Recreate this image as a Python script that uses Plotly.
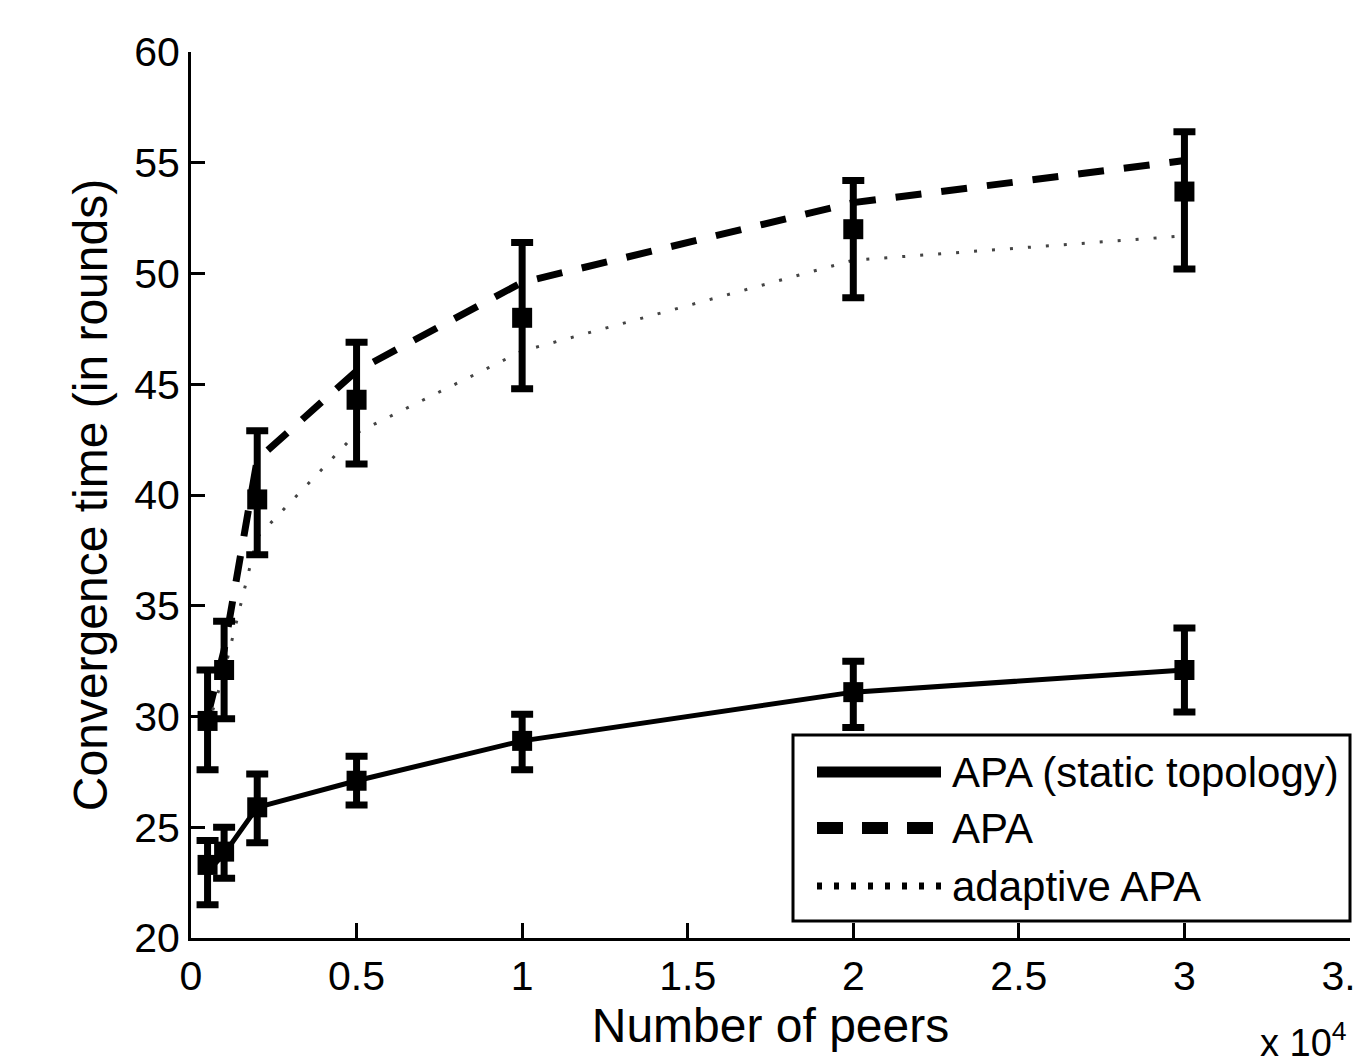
import plotly.graph_objects as go

# ---------------- data ----------------
peers = [500, 1000, 2000, 5000, 10000, 20000, 30000]
x_scale = 1e4

static_mean = [23.0, 23.8, 25.9, 27.1, 28.9, 31.1, 32.1]
static_mid = [23.3, 23.9, 25.9, 27.1, 28.9, 31.1, 32.1]
static_lo = [21.5, 22.7, 24.3, 26.0, 27.6, 29.5, 30.2]
static_hi = [24.4, 25.0, 27.4, 28.2, 30.1, 32.5, 34.0]

apa_mean = [30.0, 33.0, 41.6, 45.6, 49.6, 53.2, 55.1]
adaptive_mean = [29.5, 32.0, 38.1, 42.8, 46.5, 50.6, 51.7]
dyn_mid = [29.8, 32.1, 39.8, 44.3, 48.0, 52.0, 53.7]
dyn_lo = [27.6, 29.9, 37.3, 41.4, 44.8, 48.9, 50.2]
dyn_hi = [32.1, 34.3, 42.9, 46.9, 51.4, 54.2, 56.4]

xtick_vals = [0, 0.5, 1, 1.5, 2, 2.5, 3, 3.5]
xtick_text = ["0", "0.5", "1", "1.5", "2", "2.5", "3", "3.5"]
ytick_vals = [20, 25, 30, 35, 40, 45, 50, 55, 60]

legend_labels = ["APA (static topology)", "APA", "adaptive APA"]

# ---------------- figure ----------------
xs = [p / x_scale for p in peers]
FONT = "Liberation Sans, Arial, sans-serif"

fig = go.Figure()

fig.add_trace(go.Scatter(x=xs, y=static_mean, mode="lines",
                         line=dict(color="black", width=5), showlegend=False))
fig.add_trace(go.Scatter(x=xs, y=apa_mean, mode="lines",
                         line=dict(color="black", width=7, dash="26px,20px"), showlegend=False))
fig.add_trace(go.Scatter(x=xs, y=adaptive_mean, mode="lines",
                         line=dict(color="#444444", width=3, dash="3px,15px"), showlegend=False))


def err_trace(mid, lo, hi):
    return go.Scatter(
        x=xs, y=mid, mode="markers",
        marker=dict(symbol="square", size=20, color="black"),
        error_y=dict(type="data", symmetric=False,
                     array=[h - m for h, m in zip(hi, mid)],
                     arrayminus=[m - l for m, l in zip(mid, lo)],
                     color="black", thickness=7, width=11),
        showlegend=False)


fig.add_trace(err_trace(static_mid, static_lo, static_hi))
fig.add_trace(err_trace(dyn_mid, dyn_lo, dyn_hi))

# plot area in screen pixels (page has an 8px body margin)
OFF = 8
L, R, T, B = 191, 1350, 52, 938
W, H = 1361 - OFF, 1062 - OFF


def px(x):
    return (x - L) / (R - L)


def py(y):
    return (B - y) / (B - T)


shapes = [
    dict(type="rect", xref="paper", yref="paper",
         x0=px(793), x1=px(1350), y0=py(921), y1=py(735),
         line=dict(color="black", width=3), fillcolor="white", layer="above"),
]
legend_rows = [772, 828, 886]
legend_styles = [
    dict(color="black", width=11),
    dict(color="black", width=12, dash="26px,19px"),
    dict(color="black", width=7, dash="5px,12px"),
]
annotations = []
for row, style, label in zip(legend_rows, legend_styles, legend_labels):
    shapes.append(dict(type="line", xref="paper", yref="paper",
                       x0=px(817), x1=px(941), y0=py(row), y1=py(row),
                       line=style, layer="above"))
    annotations.append(dict(xref="paper", yref="paper", x=px(950), y=py(row),
                            xanchor="left", yanchor="middle", showarrow=False,
                            text=label, font=dict(family=FONT, size=42, color="black")))

annotations.append(dict(xref="paper", yref="paper", x=px(1258), y=py(1040),
                        xanchor="left", yanchor="middle", showarrow=False,
                        text="x 10<sup>4</sup>",
                        font=dict(family=FONT, size=38, color="black")))

fig.update_layout(
    width=W, height=H,
    margin=dict(l=L - OFF, r=W - (R - OFF), t=T - OFF, b=H - (B - OFF)),
    plot_bgcolor="white", paper_bgcolor="white",
    font=dict(family=FONT, color="black"),
    shapes=shapes, annotations=annotations,
    xaxis=dict(range=[0, 3.5], tickvals=xtick_vals, ticktext=xtick_text,
               ticks="inside", ticklen=15, tickwidth=3, tickcolor="black",
               showline=True, linewidth=3, linecolor="black", mirror=False,
               showgrid=False, zeroline=False, ticklabeloverflow="allow",
               automargin=False,
               tickfont=dict(family=FONT, size=41, color="black"),
               title=dict(text="Number of peers", standoff=8,
                          font=dict(family=FONT, size=48, color="black"))),
    yaxis=dict(range=[20, 60], tickvals=ytick_vals,
               ticks="inside", ticklen=14, tickwidth=3, tickcolor="black",
               showline=True, linewidth=3, linecolor="black", mirror=False,
               showgrid=False, zeroline=False, automargin=False,
               tickfont=dict(family=FONT, size=41, color="black"),
               title=dict(text="Convergence time (in rounds)", standoff=12,
                          font=dict(family=FONT, size=48, color="black"))),
)

fig.write_html("out.html")
